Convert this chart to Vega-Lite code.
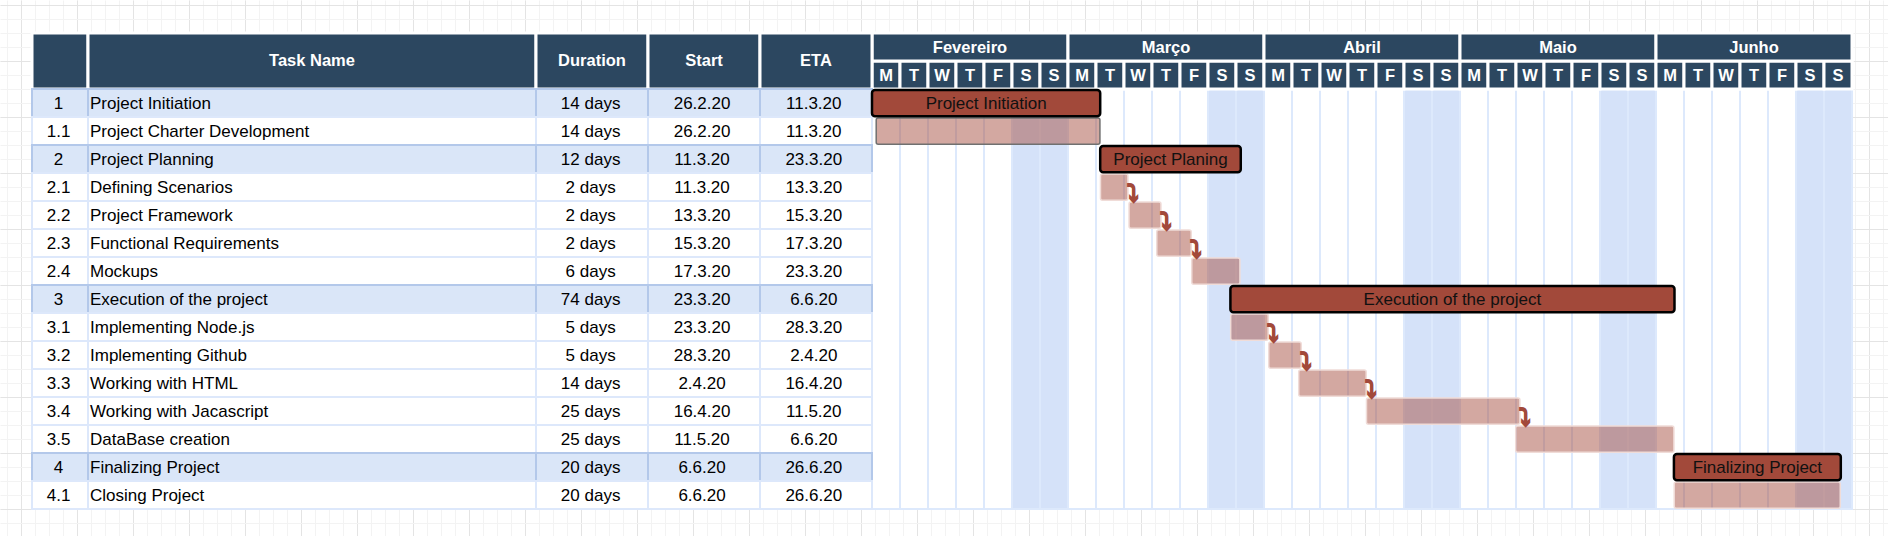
{
  "$schema": "https://vega.github.io/schema/vega-lite/v6.json",
  "width": 1888,
  "height": 536,
  "autosize": {"type": "fit", "contains": "padding"},
  "padding": 0,
  "background": "white",
  "config": {"view": {"stroke": null}, "font": "Liberation Sans"},
  "datasets": {
    "tasks": [
      {"id": "1", "name": "Project Initiation", "duration": "14 days", "start": "26.2.20", "eta": "11.3.20", "summary": true, "link": false, "s": 0, "e": 8.15, "bar": "Project Initiation"},
      {"id": "1.1", "name": "Project Charter Development", "duration": "14 days", "start": "26.2.20", "eta": "11.3.20", "summary": false, "link": false, "s": 0.15, "e": 8.14},
      {"id": "2", "name": "Project Planning", "duration": "12 days", "start": "11.3.20", "eta": "23.3.20", "summary": true, "link": false, "s": 8.15, "e": 13.17, "bar": "Project Planing"},
      {"id": "2.1", "name": "Defining Scenarios", "duration": "2 days", "start": "11.3.20", "eta": "13.3.20", "summary": false, "link": true, "s": 8.16, "e": 9.14},
      {"id": "2.2", "name": "Project Framework", "duration": "2 days", "start": "13.3.20", "eta": "15.3.20", "summary": false, "link": true, "s": 9.18, "e": 10.32},
      {"id": "2.3", "name": "Functional Requirements", "duration": "2 days", "start": "15.3.20", "eta": "17.3.20", "summary": false, "link": true, "s": 10.17, "e": 11.4},
      {"id": "2.4", "name": "Mockups", "duration": "6 days", "start": "17.3.20", "eta": "23.3.20", "summary": false, "link": false, "s": 11.42, "e": 13.14},
      {"id": "3", "name": "Execution of the project", "duration": "74 days", "start": "23.3.20", "eta": "6.6.20", "summary": true, "link": false, "s": 12.8, "e": 28.66, "bar": "Execution of the project"},
      {"id": "3.1", "name": "Implementing Node.js", "duration": "5 days", "start": "23.3.20", "eta": "28.3.20", "summary": false, "link": true, "s": 12.81, "e": 14.15},
      {"id": "3.2", "name": "Implementing Github", "duration": "5 days", "start": "28.3.20", "eta": "2.4.20", "summary": false, "link": true, "s": 14.17, "e": 15.33},
      {"id": "3.3", "name": "Working with HTML", "duration": "14 days", "start": "2.4.20", "eta": "16.4.20", "summary": false, "link": true, "s": 15.24, "e": 17.65},
      {"id": "3.4", "name": "Working with Jacascript", "duration": "25 days", "start": "16.4.20", "eta": "11.5.20", "summary": false, "link": true, "s": 17.66, "e": 23.14},
      {"id": "3.5", "name": "DataBase creation", "duration": "25 days", "start": "11.5.20", "eta": "6.6.20", "summary": false, "link": false, "s": 22.99, "e": 28.64},
      {"id": "4", "name": "Finalizing Project", "duration": "20 days", "start": "6.6.20", "eta": "26.6.20", "summary": true, "link": false, "s": 28.64, "e": 34.6, "bar": "Finalizing Project"},
      {"id": "4.1", "name": "Closing Project", "duration": "20 days", "start": "6.6.20", "eta": "26.6.20", "summary": false, "link": false, "s": 28.65, "e": 34.58}
    ],
    "days": [
      {"m": "Fevereiro", "d": "M"}, {"m": "Fevereiro", "d": "T"}, {"m": "Fevereiro", "d": "W"}, {"m": "Fevereiro", "d": "T"}, {"m": "Fevereiro", "d": "F"}, {"m": "Fevereiro", "d": "S"}, {"m": "Fevereiro", "d": "S"},
      {"m": "Março", "d": "M"}, {"m": "Março", "d": "T"}, {"m": "Março", "d": "W"}, {"m": "Março", "d": "T"}, {"m": "Março", "d": "F"}, {"m": "Março", "d": "S"}, {"m": "Março", "d": "S"},
      {"m": "Abril", "d": "M"}, {"m": "Abril", "d": "T"}, {"m": "Abril", "d": "W"}, {"m": "Abril", "d": "T"}, {"m": "Abril", "d": "F"}, {"m": "Abril", "d": "S"}, {"m": "Abril", "d": "S"},
      {"m": "Maio", "d": "M"}, {"m": "Maio", "d": "T"}, {"m": "Maio", "d": "W"}, {"m": "Maio", "d": "T"}, {"m": "Maio", "d": "F"}, {"m": "Maio", "d": "S"}, {"m": "Maio", "d": "S"},
      {"m": "Junho", "d": "M"}, {"m": "Junho", "d": "T"}, {"m": "Junho", "d": "W"}, {"m": "Junho", "d": "T"}, {"m": "Junho", "d": "F"}, {"m": "Junho", "d": "S"}, {"m": "Junho", "d": "S"}
    ]
  },
  "resolve": {"scale": {"x": "independent", "y": "independent"}, "axis": {"x": "independent", "y": "independent"}},
  "layer": [
    {
      "data": {"values": [{}]},
      "mark": {"type": "point", "opacity": 0},
      "encoding": {
        "x": {"datum": 0, "type": "quantitative", "scale": {"domain": [-0.5, 134.357], "nice": false, "zero": false},
          "axis": {"grid": true, "gridColor": "#f3f3f3", "gridWidth": 1, "tickCount": 135, "labels": false, "ticks": false, "domain": false, "title": null, "minExtent": 0, "maxExtent": 0}},
        "y": {"datum": 0, "type": "quantitative", "scale": {"domain": [-0.357, 37.929], "nice": false, "zero": false, "reverse": true},
          "axis": {"grid": true, "gridColor": "#f3f3f3", "gridWidth": 1, "tickCount": 38, "labels": false, "ticks": false, "domain": false, "title": null, "minExtent": 0, "maxExtent": 0}}
      }
    },
    {
      "data": {"values": [{}]},
      "mark": {"type": "point", "opacity": 0},
      "encoding": {
        "x": {"datum": 0, "type": "quantitative", "scale": {"domain": [-0.375, 33.339], "nice": false, "zero": false},
          "axis": {"grid": true, "gridColor": "#e4e4e4", "gridWidth": 1, "tickCount": 34, "labels": false, "ticks": false, "domain": false, "title": null, "minExtent": 0, "maxExtent": 0}},
        "y": {"datum": 0, "type": "quantitative", "scale": {"domain": [-0.0893, 9.482], "nice": false, "zero": false, "reverse": true},
          "axis": {"grid": true, "gridColor": "#e4e4e4", "gridWidth": 1, "tickCount": 10, "labels": false, "ticks": false, "domain": false, "title": null, "minExtent": 0, "maxExtent": 0}}
      }
    },
    {
      "layer": [
        {
          "data": {"name": "days"},
          "transform": [
            {"window": [{"op": "row_number", "as": "n"}]},
            {"calculate": "datum.n - 1", "as": "i"},
            {"calculate": "datum.n - 0.5", "as": "c"}
          ],
          "layer": [
            {
              "mark": {"type": "rect", "stroke": "#dde9fc", "strokeWidth": 2},
              "encoding": {
                "x": {"field": "i", "type": "quantitative", "axis": null, "scale": {"domain": [-31.1429, 36.2857], "nice": false, "zero": false}},
                "x2": {"field": "n"},
                "y": {"datum": 0, "type": "quantitative", "axis": null, "scale": {"domain": [-3.1786, 15.9643], "nice": false, "zero": false, "reverse": true}},
                "y2": {"datum": 15},
                "fill": {"condition": {"test": "datum.d === 'S'", "value": "#d5e2f9"}, "value": "white"}
              }
            },
            {
              "mark": {"type": "rect", "fill": "#2c4760", "stroke": "white", "strokeWidth": 3},
              "encoding": {
                "x": {"field": "i", "type": "quantitative", "axis": null},
                "x2": {"field": "n"},
                "y": {"datum": -1, "type": "quantitative", "axis": null},
                "y2": {"datum": 0}
              }
            },
            {
              "mark": {"type": "text", "color": "white", "fontSize": 16.5, "fontWeight": "bold", "baseline": "middle", "align": "center", "dy": 1},
              "encoding": {
                "x": {"field": "c", "type": "quantitative", "axis": null},
                "y": {"datum": -0.5, "type": "quantitative", "axis": null},
                "text": {"field": "d"}
              }
            },
            {
              "transform": [
                {"aggregate": [{"op": "min", "field": "i", "as": "m0"}, {"op": "max", "field": "n", "as": "m1"}], "groupby": ["m"]},
                {"calculate": "(datum.m0 + datum.m1) / 2", "as": "mc"}
              ],
              "layer": [
                {
                  "mark": {"type": "rect", "fill": "#2c4760", "stroke": "white", "strokeWidth": 3},
                  "encoding": {
                    "x": {"field": "m0", "type": "quantitative", "axis": null},
                    "x2": {"field": "m1"},
                    "y": {"datum": -2, "type": "quantitative", "axis": null},
                    "y2": {"datum": -1}
                  }
                },
                {
                  "mark": {"type": "text", "color": "white", "fontSize": 16.5, "fontWeight": "bold", "baseline": "middle", "align": "center", "dy": 1},
                  "encoding": {
                    "x": {"field": "mc", "type": "quantitative", "axis": null},
                    "y": {"datum": -1.5, "type": "quantitative", "axis": null},
                    "text": {"field": "m"}
                  }
                }
              ]
            }
          ]
        },
        {
          "data": {"values": [{}]},
          "layer": [
            {"mark": {"type": "rect", "fill": "#2c4760", "stroke": "white", "strokeWidth": 3},
             "encoding": {"x": {"datum": -30, "type": "quantitative", "axis": null}, "x2": {"datum": -28}, "y": {"datum": -2, "type": "quantitative", "axis": null}, "y2": {"datum": 0}}},
            {"mark": {"type": "rect", "fill": "#2c4760", "stroke": "white", "strokeWidth": 3},
             "encoding": {"x": {"datum": -28, "type": "quantitative", "axis": null}, "x2": {"datum": -12}, "y": {"datum": -2, "type": "quantitative", "axis": null}, "y2": {"datum": 0}}},
            {"mark": {"type": "rect", "fill": "#2c4760", "stroke": "white", "strokeWidth": 3},
             "encoding": {"x": {"datum": -12, "type": "quantitative", "axis": null}, "x2": {"datum": -8}, "y": {"datum": -2, "type": "quantitative", "axis": null}, "y2": {"datum": 0}}},
            {"mark": {"type": "rect", "fill": "#2c4760", "stroke": "white", "strokeWidth": 3},
             "encoding": {"x": {"datum": -8, "type": "quantitative", "axis": null}, "x2": {"datum": -4}, "y": {"datum": -2, "type": "quantitative", "axis": null}, "y2": {"datum": 0}}},
            {"mark": {"type": "rect", "fill": "#2c4760", "stroke": "white", "strokeWidth": 3},
             "encoding": {"x": {"datum": -4, "type": "quantitative", "axis": null}, "x2": {"datum": 0}, "y": {"datum": -2, "type": "quantitative", "axis": null}, "y2": {"datum": 0}}},
            {"mark": {"type": "text", "text": "Task Name", "color": "white", "fontSize": 16.5, "fontWeight": "bold", "baseline": "middle", "align": "center"},
             "encoding": {"x": {"datum": -20, "type": "quantitative", "axis": null}, "y": {"datum": -1, "type": "quantitative", "axis": null}}},
            {"mark": {"type": "text", "text": "Duration", "color": "white", "fontSize": 16.5, "fontWeight": "bold", "baseline": "middle", "align": "center"},
             "encoding": {"x": {"datum": -10, "type": "quantitative", "axis": null}, "y": {"datum": -1, "type": "quantitative", "axis": null}}},
            {"mark": {"type": "text", "text": "Start", "color": "white", "fontSize": 16.5, "fontWeight": "bold", "baseline": "middle", "align": "center"},
             "encoding": {"x": {"datum": -6, "type": "quantitative", "axis": null}, "y": {"datum": -1, "type": "quantitative", "axis": null}}},
            {"mark": {"type": "text", "text": "ETA", "color": "white", "fontSize": 16.5, "fontWeight": "bold", "baseline": "middle", "align": "center"},
             "encoding": {"x": {"datum": -2, "type": "quantitative", "axis": null}, "y": {"datum": -1, "type": "quantitative", "axis": null}}}
          ]
        },
        {
          "data": {"name": "tasks"},
          "transform": [
            {"window": [{"op": "row_number", "as": "rn"}]},
            {"calculate": "datum.rn - 1", "as": "r0"},
            {"calculate": "datum.rn - 0.5", "as": "rc"},
            {"calculate": "datum.rn - 0.96", "as": "b0"},
            {"calculate": "datum.rn - 0.03", "as": "b1"},
            {"calculate": "(datum.s + datum.e) / 2", "as": "mid"},
            {"calculate": "datum.rn - 0.25", "as": "ar"}
          ],
          "layer": [
            {"mark": {"type": "rect", "strokeWidth": 2},
             "encoding": {"x": {"datum": -30, "type": "quantitative", "axis": null}, "x2": {"datum": -28}, "y": {"field": "r0", "type": "quantitative", "axis": null}, "y2": {"field": "rn"},
               "fill": {"condition": {"test": "datum.summary", "value": "#dae6f8"}, "value": "white"},
               "stroke": {"condition": {"test": "datum.summary", "value": "#b3c8ea"}, "value": "#dde8fb"}}},
            {"mark": {"type": "rect", "strokeWidth": 2},
             "encoding": {"x": {"datum": -28, "type": "quantitative", "axis": null}, "x2": {"datum": -12}, "y": {"field": "r0", "type": "quantitative", "axis": null}, "y2": {"field": "rn"},
               "fill": {"condition": {"test": "datum.summary", "value": "#dae6f8"}, "value": "white"},
               "stroke": {"condition": {"test": "datum.summary", "value": "#b3c8ea"}, "value": "#dde8fb"}}},
            {"mark": {"type": "rect", "strokeWidth": 2},
             "encoding": {"x": {"datum": -12, "type": "quantitative", "axis": null}, "x2": {"datum": -8}, "y": {"field": "r0", "type": "quantitative", "axis": null}, "y2": {"field": "rn"},
               "fill": {"condition": {"test": "datum.summary", "value": "#dae6f8"}, "value": "white"},
               "stroke": {"condition": {"test": "datum.summary", "value": "#b3c8ea"}, "value": "#dde8fb"}}},
            {"mark": {"type": "rect", "strokeWidth": 2},
             "encoding": {"x": {"datum": -8, "type": "quantitative", "axis": null}, "x2": {"datum": -4}, "y": {"field": "r0", "type": "quantitative", "axis": null}, "y2": {"field": "rn"},
               "fill": {"condition": {"test": "datum.summary", "value": "#dae6f8"}, "value": "white"},
               "stroke": {"condition": {"test": "datum.summary", "value": "#b3c8ea"}, "value": "#dde8fb"}}},
            {"mark": {"type": "rect", "strokeWidth": 2},
             "encoding": {"x": {"datum": -4, "type": "quantitative", "axis": null}, "x2": {"datum": 0}, "y": {"field": "r0", "type": "quantitative", "axis": null}, "y2": {"field": "rn"},
               "fill": {"condition": {"test": "datum.summary", "value": "#dae6f8"}, "value": "white"},
               "stroke": {"condition": {"test": "datum.summary", "value": "#b3c8ea"}, "value": "#dde8fb"}}},
            {"mark": {"type": "text", "fontSize": 17, "baseline": "middle", "align": "center", "color": "black", "dy": 1},
             "encoding": {"x": {"datum": -29.05, "type": "quantitative", "axis": null}, "y": {"field": "rc", "type": "quantitative", "axis": null}, "text": {"field": "id"}}},
            {"mark": {"type": "text", "fontSize": 17, "baseline": "middle", "align": "left", "color": "black", "dx": 2, "dy": 1},
             "encoding": {"x": {"datum": -28, "type": "quantitative", "axis": null}, "y": {"field": "rc", "type": "quantitative", "axis": null}, "text": {"field": "name"}}},
            {"mark": {"type": "text", "fontSize": 17, "baseline": "middle", "align": "center", "color": "black", "dy": 1},
             "encoding": {"x": {"datum": -10.05, "type": "quantitative", "axis": null}, "y": {"field": "rc", "type": "quantitative", "axis": null}, "text": {"field": "duration"}}},
            {"mark": {"type": "text", "fontSize": 17, "baseline": "middle", "align": "center", "color": "black", "dy": 1},
             "encoding": {"x": {"datum": -6.07, "type": "quantitative", "axis": null}, "y": {"field": "rc", "type": "quantitative", "axis": null}, "text": {"field": "start"}}},
            {"mark": {"type": "text", "fontSize": 17, "baseline": "middle", "align": "center", "color": "black", "dy": 1},
             "encoding": {"x": {"datum": -2.08, "type": "quantitative", "axis": null}, "y": {"field": "rc", "type": "quantitative", "axis": null}, "text": {"field": "eta"}}},
            {"transform": [{"filter": "!datum.summary"}],
             "mark": {"type": "rect", "fill": "#a2493a", "fillOpacity": 0.48, "strokeWidth": 1.5, "cornerRadius": 2},
             "encoding": {"x": {"field": "s", "type": "quantitative", "axis": null}, "x2": {"field": "e"}, "y": {"field": "b0", "type": "quantitative", "axis": null}, "y2": {"field": "b1"},
               "stroke": {"condition": {"test": "datum.id === '1.1'", "value": "#707070"}, "value": "#f0dcd8"}}},
            {"transform": [{"filter": "datum.summary"}],
             "mark": {"type": "rect", "fill": "#a2493a", "stroke": "black", "strokeWidth": 2.5, "cornerRadius": 3},
             "encoding": {"x": {"field": "s", "type": "quantitative", "axis": null}, "x2": {"field": "e"}, "y": {"field": "b0", "type": "quantitative", "axis": null}, "y2": {"field": "b1"}}},
            {"transform": [{"filter": "datum.summary"}],
             "mark": {"type": "text", "fontSize": 17, "baseline": "middle", "align": "center", "color": "#111111", "dy": 1},
             "encoding": {"x": {"field": "mid", "type": "quantitative", "axis": null}, "y": {"field": "rc", "type": "quantitative", "axis": null}, "text": {"field": "bar"}}},
            {"transform": [{"filter": "datum.link"}],
             "mark": {"type": "text", "text": "⤵", "font": "DejaVu Sans", "fontWeight": "bold", "fontSize": 23, "baseline": "middle", "align": "left", "color": "#a2493a", "stroke": "#a2493a", "strokeWidth": 1.2, "dx": -1, "dy": 0},
             "encoding": {"x": {"field": "e", "type": "quantitative", "axis": null}, "y": {"field": "ar", "type": "quantitative", "axis": null}}}
          ]
        }
      ]
    }
  ]
}
